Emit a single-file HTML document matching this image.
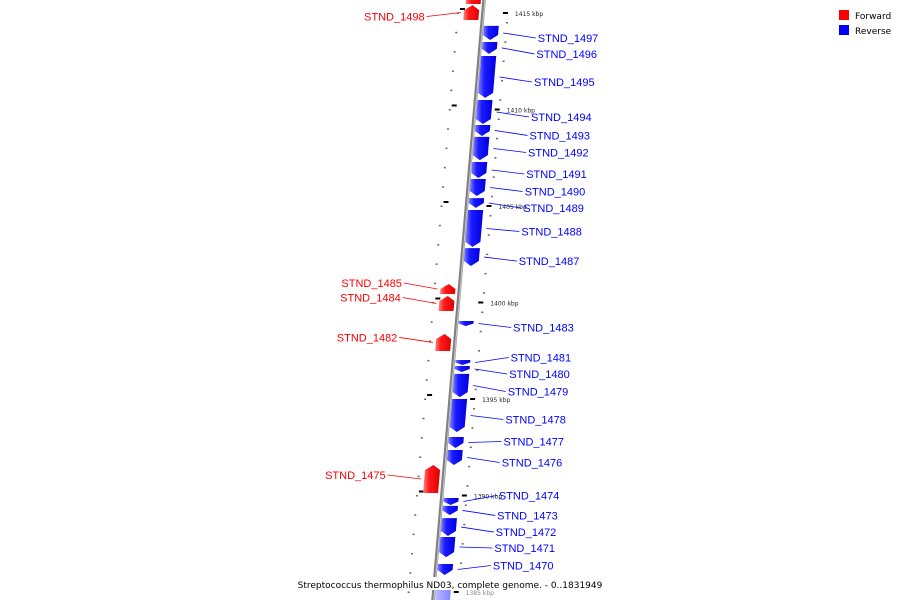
<!DOCTYPE html>
<html><head><meta charset="utf-8"><style>
body{margin:0;background:#fff;}
svg{display:block;font-family:"DejaVu Sans","Liberation Sans",sans-serif;}
</style></head><body>
<svg id="chart" width="900" height="600" viewBox="0 0 900 600">
<defs>
<linearGradient id="gb" x1="0" x2="1"><stop offset="0" stop-color="#8080ff"/><stop offset="0.35" stop-color="#1a1aff"/><stop offset="1" stop-color="#0000e0"/></linearGradient>
<linearGradient id="gr" x1="0" x2="1"><stop offset="0" stop-color="#ff8080"/><stop offset="0.35" stop-color="#ff1a1a"/><stop offset="1" stop-color="#e00000"/></linearGradient>
<linearGradient id="gl" x1="0" x2="1"><stop offset="0" stop-color="#c0c0ff"/><stop offset="1" stop-color="#8080ff"/></linearGradient>
</defs>
<g id="ticks"></g>
<g id="axis"></g>
<g id="genes"></g>
<g>
<rect x="839" y="10" width="10" height="10" fill="#ff0000"/>
<text x="855" y="19" font-size="9">Forward</text>
<rect x="839" y="25" width="10" height="10" fill="#0000ff"/>
<text x="855" y="34" font-size="9">Reverse</text>
</g>
<rect x="292" y="577" width="316" height="13" fill="#fff"/>
<text x="450" y="588" font-size="9" text-anchor="middle">Streptococcus thermophilus ND03, complete genome. - 0..1831949</text>
</svg>
<script>
const revNames=["STND_1497","STND_1496","STND_1495","STND_1494","STND_1493","STND_1492","STND_1491","STND_1490","STND_1489","STND_1488","STND_1487","STND_1483","STND_1481","STND_1480","STND_1479","STND_1478","STND_1477","STND_1476","STND_1474","STND_1473","STND_1472","STND_1471","STND_1470"];
const revStart=[1414.33,1413.50,1412.77,1410.49,1409.20,1408.58,1407.28,1406.40,1405.41,1404.79,1402.82,1399.04,1397.02,1396.71,1396.30,1395.00,1393.03,1392.36,1389.87,1389.46,1388.83,1387.85,1386.45];
const revEnd=[1413.60,1412.88,1410.60,1409.25,1408.63,1407.38,1406.45,1405.52,1404.90,1402.88,1401.89,1398.78,1396.76,1396.40,1395.10,1393.29,1392.46,1391.58,1389.51,1388.99,1387.90,1386.81,1385.88];
const revLabelDy=[5,6,5,5,5,4,4,4,5,3,4,4,-5,5,6,4,-1,5,-6,5,5,1,-4];
const fwdNames=["STND_1498","STND_1485","STND_1484","STND_1482","STND_1475"];
const fwdStart=[1415.41,1400.96,1400.34,1398.37,1391.58];
const fwdEnd=[1414.64,1400.44,1399.56,1397.49,1390.13];
const fwdLabelDy=[4,-6,-6,-5,-4];
const majorTicks=[1415,1410,1405,1400,1395,1390,1385];
const majorLabels=["1415 kbp","1410 kbp","1405 kbp","1400 kbp","1395 kbp","1390 kbp","1385 kbp"];

const NS="http://www.w3.org/2000/svg";
function Y(k){return 13+(1415-k)*19.3;}
function AX(y){return 484-0.085*y;}
function mk(t,a,p){const e=document.createElementNS(NS,t);for(const k in a)e.setAttribute(k,a[k]);p.appendChild(e);return e;}
const gT=document.getElementById('ticks'),gA=document.getElementById('axis'),gG=document.getElementById('genes');

const ax1=mk('line',{x1:AX(-10),y1:-10,x2:AX(610),y2:610,stroke:'#808080','stroke-width':3.5},gA);


const ax2=mk('line',{x1:AX(-10)+0.8,y1:-10,x2:AX(610)+0.8,y2:610,stroke:'#c8c8c8','stroke-width':1},gA);



for(let k=1416;k>=1383;k-=1){
  const y=Y(k);
  if(y<-5||y>605)continue;
  const d=mk('rect',{x:AX(y)-26,y:y-0.5,width:2,height:1.5,fill:'#666'},gT);
  
  
  const d2=mk('rect',{x:AX(y)+23,y:y+9,width:2,height:1.5,fill:'#666'},gT);
  
  
}
majorTicks.forEach((k,i)=>{
  const y=Y(k);
  const l=mk('rect',{x:AX(y)-23,y:y-5,width:5,height:2,fill:'#000'},gT);
  
  
  const r=mk('rect',{x:AX(y)+20,y:y-1,width:5,height:2,fill:'#000'},gT);
  
  
  const t=mk('text',{x:AX(y)+32,y:y+3,'font-size':6,fill:i==6?'#888':'#222'},gT);
  t.textContent=majorLabels[i];
  
  
});

revNames.forEach((n,i)=>{
  const y1=Y(revStart[i]),y2=Y(revEnd[i]);
  const h=Math.min(5,(y2-y1)*0.5);
  const pts=[[AX(y1)+2,y1],[AX(y1)+17,y1],[AX(y2-h)+17,y2-h],[AX(y2)+9.5,y2],[AX(y2-h)+2,y2-h]];
  const p=mk('polygon',{points:pts.map(q=>q.join(',')).join(' '),fill:'url(#gb)'},gG);
  
  
  const ym=(y1+y2)/2, ly=ym+revLabelDy[i];
  const lx=AX(ly)+57;
  const ln=mk('line',{x1:AX(ym)+22,y1:ym,x2:lx-2,y2:ly,stroke:'#0000ff','stroke-width':0.8},gG);
  
  
  const t=mk('text',{x:lx,y:ly+4,'font-size':11,fill:'#0000ff','font-family':'Liberation Sans, sans-serif'},gG);
  t.textContent=n;
  
  
});
(function(){
  const y1=Y(1385.78),y2=610;
  const p=mk('polygon',{points:[[AX(y1)+2,y1],[AX(y1)+17,y1],[AX(y2)+17,y2],[AX(y2)+2,y2]].map(q=>q.join(',')).join(' '),fill:'url(#gl)'},gG);
  
  
})();

fwdNames.forEach((n,i)=>{
  const y1=Y(fwdStart[i]),y2=Y(fwdEnd[i]);
  const h=Math.min(5,(y2-y1)*0.5);
  const pts=[[AX(y1)-11,y1],[AX(y1+h)-4,y1+h],[AX(y2)-4,y2],[AX(y2)-19,y2],[AX(y1+h)-19,y1+h]];
  const p=mk('polygon',{points:pts.map(q=>q.join(',')).join(' '),fill:'url(#gr)'},gG);
  
  
  const ym=(y1+y2)/2, ly=ym+fwdLabelDy[i];
  const lx=AX(ly)-58;
  const ln=mk('line',{x1:AX(ym)-22,y1:ym,x2:lx+2,y2:ly,stroke:'#ff0000','stroke-width':0.8},gG);
  
  
  const t=mk('text',{x:lx,y:ly+4,'font-size':11,fill:'#ff0000','text-anchor':'end','font-family':'Liberation Sans, sans-serif'},gG);
  t.textContent=n;
  
  
});
(function(){
  const p=mk('polygon',{points:[[AX(0)-18,-2],[AX(0)-3,-2],[AX(4)-3,4],[AX(4)-18,4]].map(q=>q.join(',')).join(' '),fill:'url(#gr)'},gG);
  
  
})();
</script>
</body></html>
